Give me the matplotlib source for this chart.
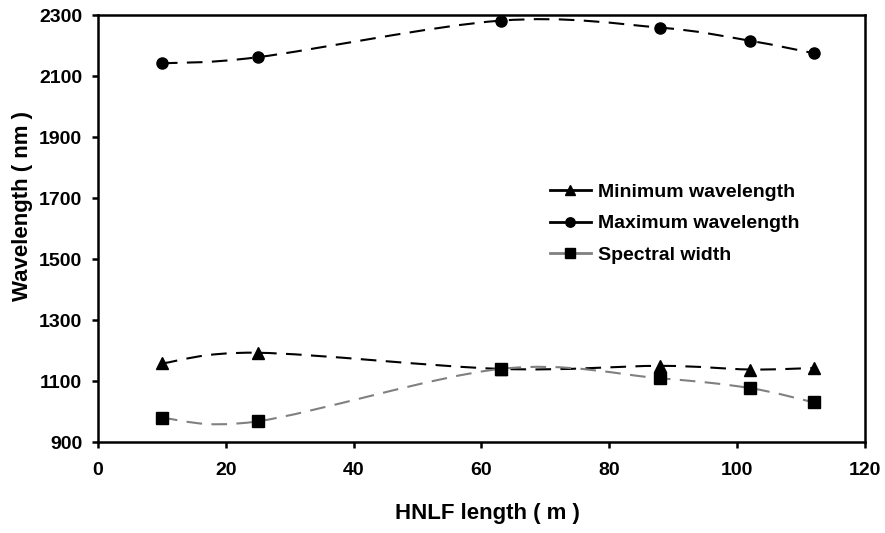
import matplotlib
matplotlib.use("Agg")
import matplotlib.pyplot as plt
from matplotlib.path import Path
from matplotlib.patches import PathPatch
from matplotlib.lines import Line2D

plt.rcParams['font.family'] = ['Liberation Sans', 'DejaVu Sans']
plt.rcParams['font.weight'] = 'bold'

# HNLF lengths (m) and measured wavelengths (nm)
longueurs = [10, 25, 63, 88, 102, 112]
lambda_min = [1158, 1193, 1140, 1150, 1138, 1143]
lambda_max = [2143, 2163, 2283, 2260, 2217, 2176]
largeur = [979, 968, 1140, 1109, 1077, 1030]


def courbe_lissee(xs, ys):
    """Bezier path through the points (smoothed line, Catmull-Rom style)"""
    n = len(xs)
    sommets = [(xs[0], ys[0])]
    codes = [Path.MOVETO]
    for i in range(n - 1):
        i0 = max(i - 1, 0)
        i3 = min(i + 2, n - 1)
        c1 = (xs[i] + (xs[i + 1] - xs[i0]) / 6, ys[i] + (ys[i + 1] - ys[i0]) / 6)
        c2 = (xs[i + 1] - (xs[i3] - xs[i]) / 6, ys[i + 1] - (ys[i3] - ys[i]) / 6)
        sommets += [c1, c2, (xs[i + 1], ys[i + 1])]
        codes += [Path.CURVE4] * 3
    return Path(sommets, codes)


fig = plt.figure(figsize=(8.85, 5.33), dpi=100)
ax = fig.add_axes([0.1107, 0.1707, 0.8667, 0.8003])

series = [
    (lambda_min, '^', 9, 'black', 'Minimum wavelength'),
    (lambda_max, 'o', 8, 'black', 'Maximum wavelength'),
    (largeur, 's', 8.3, '#808080', 'Spectral width'),
]

poignees = []
for valeurs, marqueur, taille, couleur, nom in series:
    patch = PathPatch(courbe_lissee(longueurs, valeurs), fill=False,
                      edgecolor=couleur, linewidth=1.5, linestyle=(0, (7.5, 4.5)),
                      zorder=2)
    ax.add_patch(patch)
    ax.plot(longueurs, valeurs, linestyle='none', marker=marqueur,
            markersize=taille, color='black', zorder=3)
    poignees.append(Line2D([], [], color=couleur, linewidth=2,
                           marker=marqueur, markersize=taille * 0.85,
                           markerfacecolor='black', markeredgecolor='black',
                           label=nom))

ax.set_xlim(0, 120)
ax.set_ylim(900, 2300)
ax.set_xticks(range(0, 121, 20))
ax.set_yticks(range(900, 2301, 200))

for cote in ax.spines.values():
    cote.set_linewidth(1.8)
ax.tick_params(direction='out', length=4.3, width=1.8, labelsize=14)
ax.tick_params(axis='x', pad=10)
ax.tick_params(axis='y', pad=7)
for lab in ax.get_xticklabels() + ax.get_yticklabels():
    lab.set_fontweight('bold')

ax.set_xlabel('HNLF length ( m )', fontsize=16, fontweight='bold')
ax.set_ylabel('Wavelength ( nm )', fontsize=16, fontweight='bold')
ax.xaxis.set_label_coords(0.508, -0.143)
ax.yaxis.set_label_coords(-0.085, 0.553)

ax.legend(handles=poignees, loc='upper left', bbox_to_anchor=(0.589, 0.607),
          frameon=False, prop={'weight': 'bold', 'size': 14},
          borderpad=0, borderaxespad=0,
          handlelength=2.1, handletextpad=0.36, labelspacing=0.72)

fig.savefig('out.png', dpi=100)
